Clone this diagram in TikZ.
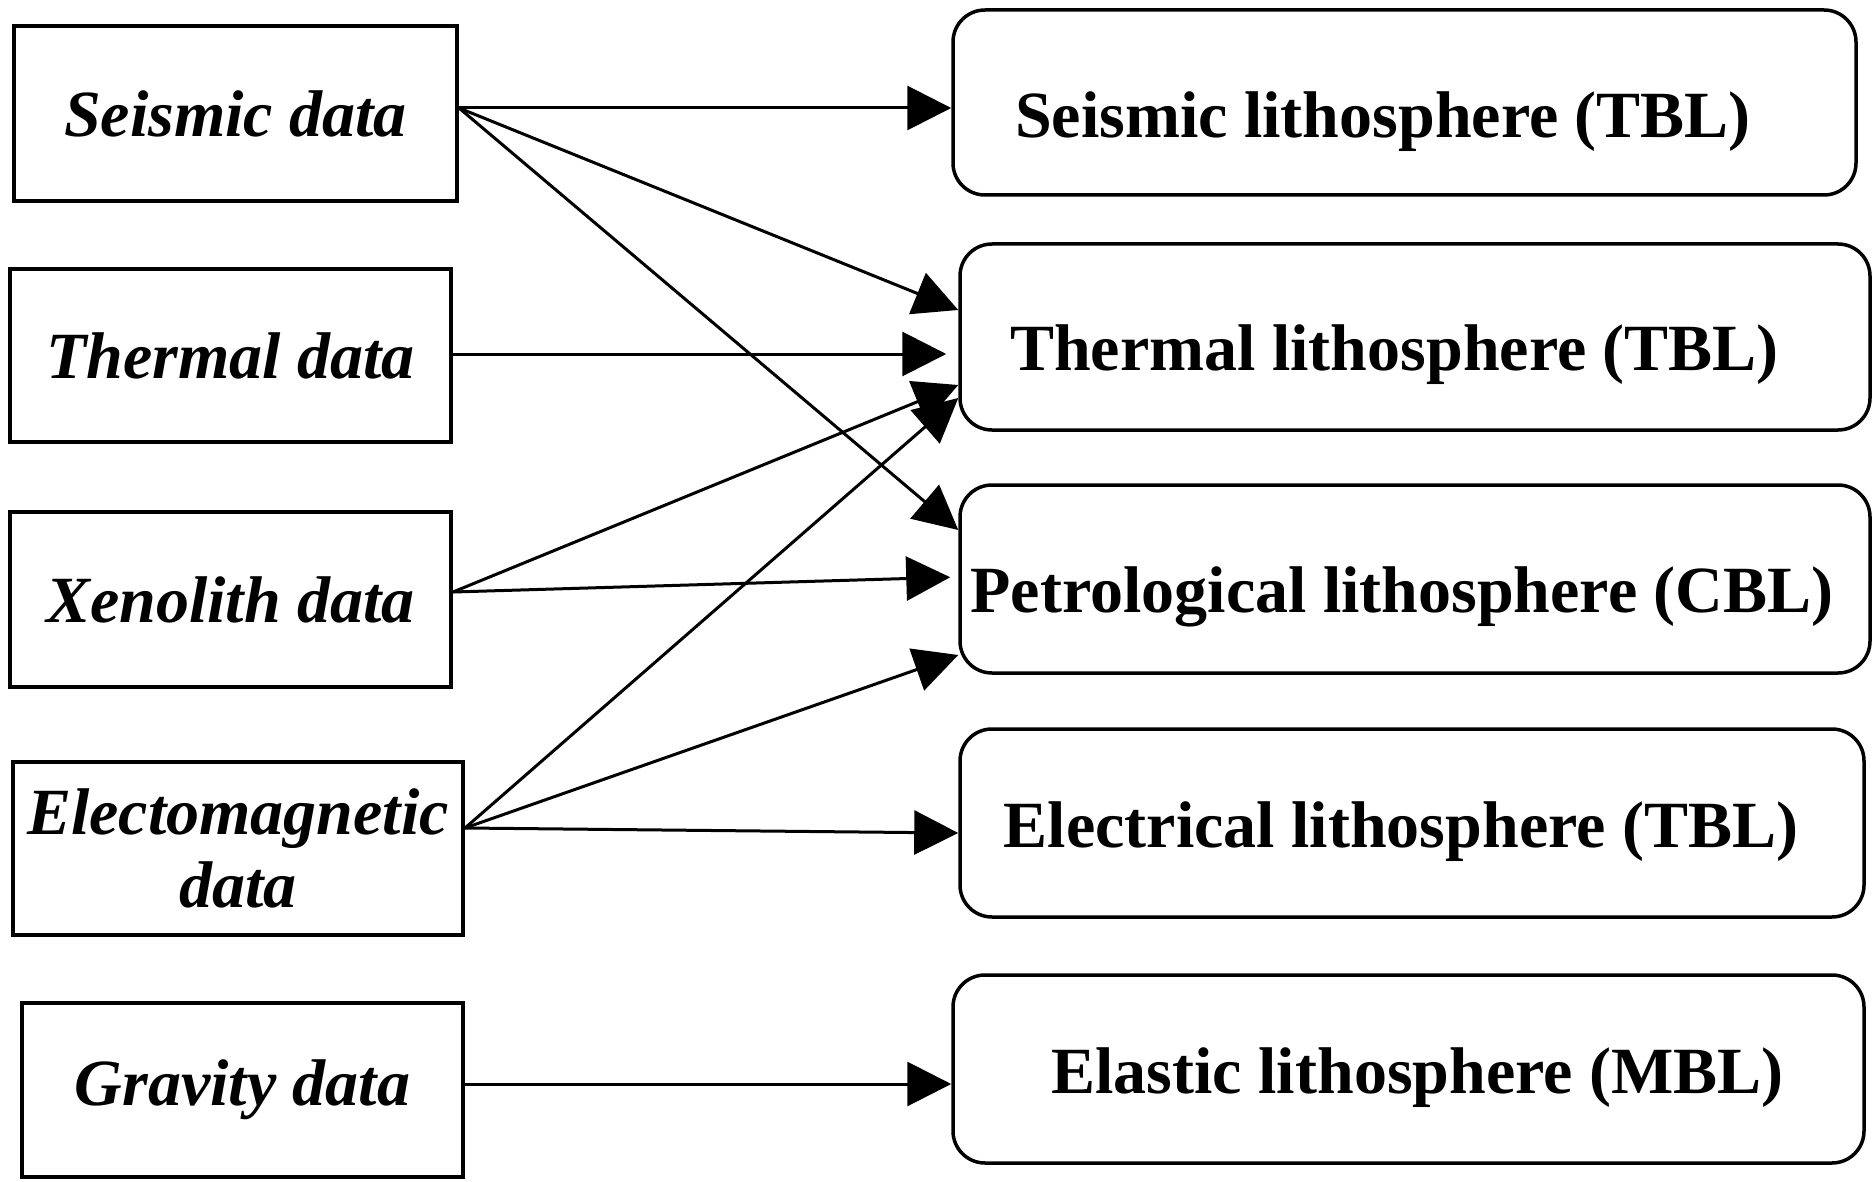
\documentclass[tikz,border=0pt]{standalone}
\usepackage{fontspec}
\setmainfont{Liberation Serif}
\usetikzlibrary{arrows.meta}
\begin{document}
\begin{tikzpicture}[x=1pt,y=-1pt,
  src/.style={draw, line width=4pt, inner sep=0pt, align=center,
    font=\fontsize{66}{73}\selectfont\bfseries\itshape},
  dst/.style={draw, line width=3.5pt, rounded corners=32pt, inner sep=0pt},
  lbl/.style={inner sep=0pt, anchor=base, font=\fontsize{66}{66}\selectfont\bfseries},
  link/.style={line width=3pt, -{Triangle[length=44pt,width=44pt]}}]
\path[use as bounding box] (0,0) rectangle (1874,1182);
% sources
\node[src, minimum width=443pt, minimum height=175pt] (sd) at (235.5,113.5) {Seismic data};
\node[src, minimum width=441pt, minimum height=173pt] (td) at (230.5,355.5) {Thermal data};
\node[src, minimum width=441pt, minimum height=175pt] (xd) at (230.5,599.5) {Xenolith data};
\node[src, minimum width=450pt, minimum height=173pt] (ed) at (238,848.5) {Electomagnetic\\data};
\node[src, minimum width=441pt, minimum height=174pt] (gd) at (242.5,1090) {Gravity data};
% targets
\node[dst, minimum width=903pt, minimum height=185pt] (sl) at (1404.5,102.5) {};
\node[dst, minimum width=910pt, minimum height=186pt] (tl) at (1415,337) {};
\node[dst, minimum width=910pt, minimum height=188pt] (pl) at (1415,579) {};
\node[dst, minimum width=904pt, minimum height=188pt] (el) at (1412,823) {};
\node[dst, minimum width=911pt, minimum height=188pt] (al) at (1408.5,1069) {};
\node[lbl] (slt) at (1383,138) {Seismic lithosphere (TBL)};
\node[lbl] (tlt) at (1394.5,370) {Thermal lithosphere (TBL)};
\node[lbl] (plt) at (1402,612) {Petrological lithosphere (CBL)};
\node[lbl] (elt) at (1401,847) {Electrical lithosphere (TBL)};
\node[lbl] (alt) at (1417.5,1093) {Elastic lithosphere (MBL)};
% connectors
\draw[link] (sd.east |- 0,108) -- (sl.west |- 0,108);
\draw[link] (sd.east |- 0,108) -- (tl.west |- 0,310);
\draw[link] (sd.east |- 0,108) -- (pl.west |- 0,530);
\draw[link, shorten >=12pt] (td.east |- 0,354) -- (tl.west |- 0,354);
\draw[link] (xd.east |- 0,592) -- (tl.west |- 0,385);
\draw[link, shorten >=8pt] (xd.east |- 0,592) -- (pl.west |- 0,577);
\draw[link] (ed.east |- 0,828) -- (tl.west |- 0,398);
\draw[link] (ed.east |- 0,828) -- (pl.west |- 0,655);
\draw[link] (ed.east |- 0,828) -- (el.west |- 0,833);
\draw[link] (gd.east |- 0,1084) -- (al.west |- 0,1084);
\end{tikzpicture}
\end{document}
